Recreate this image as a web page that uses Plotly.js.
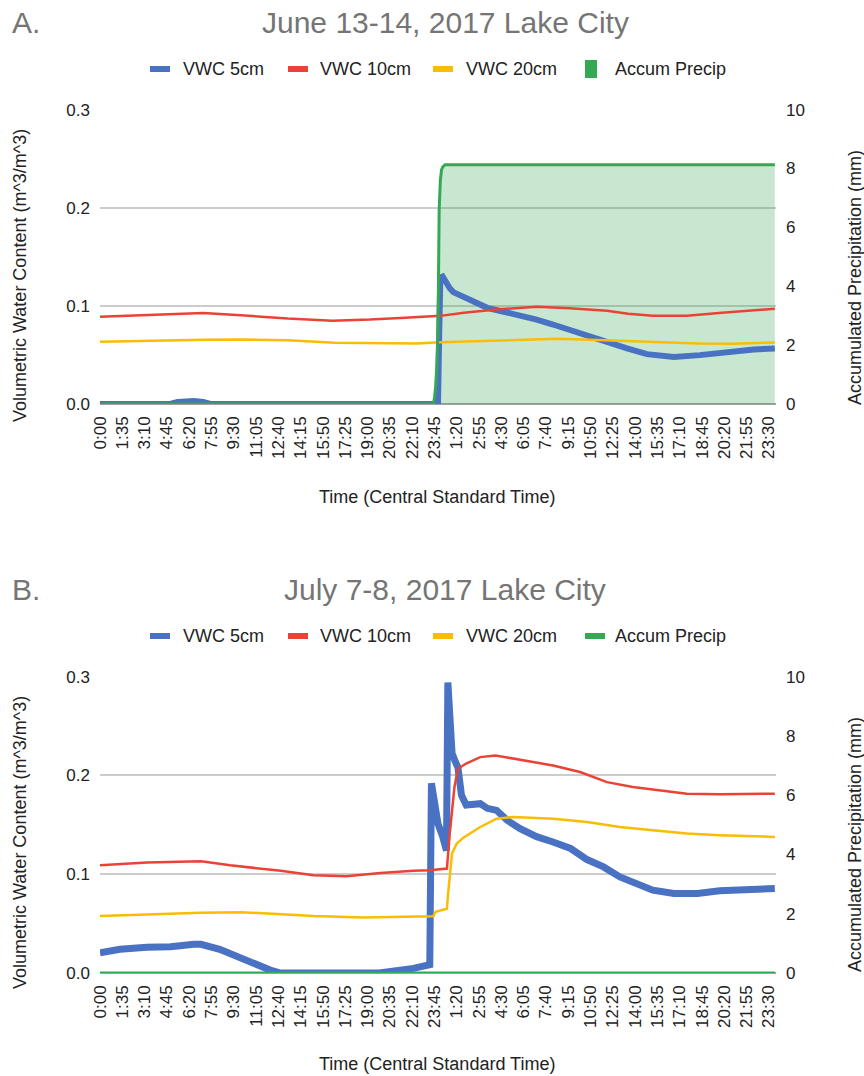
<!DOCTYPE html>
<html>
<head>
<meta charset="utf-8">
<script src="https://cdn.plot.ly/plotly-3.0.1.min.js"></script>
<style>
  html, body { margin: 0; padding: 0; background: #ffffff; }
  #chart { width: 864px; height: 1076px; }
</style>
</head>
<body>
<div id="chart"></div>
<script>
// ---- Time axis: minutes from midnight of the first day, labelled every 1 h 35 min ----
const tickMinutes = [0, 95, 190, 285, 380, 475, 570, 665, 760, 855, 950, 1045, 1140, 1235, 1330,
  1425, 1520, 1615, 1710, 1805, 1900, 1995, 2090, 2185, 2280, 2375, 2470, 2565, 2660, 2755, 2850];
const tickLabels = ["0:00", "1:35", "3:10", "4:45", "6:20", "7:55", "9:30", "11:05", "12:40", "14:15",
  "15:50", "17:25", "19:00", "20:35", "22:10", "23:45", "1:20", "2:55", "4:30", "6:05", "7:40",
  "9:15", "10:50", "12:25", "14:00", "15:35", "17:10", "18:45", "20:20", "21:55", "23:30"];

const seriesNames = ["VWC 5cm", "VWC 10cm", "VWC 20cm", "Accum Precip"];

// ---- June 13-14, 2017 ----
const juneVwc5Time = [0, 300, 330, 360, 400, 440, 470, 1400, 1440, 1445, 1450, 1460, 1470, 1490,
  1505, 1575, 1650, 1720, 1790, 1860, 1930, 2005, 2075, 2160, 2245, 2330, 2445, 2555, 2670, 2785, 2875];
const juneVwc5 = [0.0, 0.0, 0.002, 0.003, 0.003, 0.002, 0.0, 0.0, 0.0, 0.07, 0.129, 0.130, 0.125, 0.118,
  0.114, 0.106, 0.098, 0.094, 0.0905, 0.086, 0.081, 0.075, 0.069, 0.0634, 0.0566, 0.0508, 0.048,
  0.0498, 0.0532, 0.0556, 0.0566];

const juneVwc10Time = [0, 150, 300, 440, 600, 800, 990, 1150, 1300, 1450, 1550, 1700, 1860, 2000,
  2160, 2250, 2355, 2500, 2650, 2875];
const juneVwc10 = [0.0888, 0.0900, 0.0915, 0.0928, 0.0905, 0.0870, 0.0848, 0.0860, 0.0880, 0.0898,
  0.0930, 0.0965, 0.0990, 0.0975, 0.0950, 0.0920, 0.0898, 0.0900, 0.0930, 0.0970];

const juneVwc20Time = [0, 200, 450, 600, 800, 1000, 1200, 1350, 1450, 1600, 1800, 1950, 2150, 2350,
  2550, 2700, 2875];
const juneVwc20 = [0.0634, 0.0645, 0.0655, 0.0658, 0.0650, 0.0625, 0.0618, 0.0617, 0.0630, 0.0640,
  0.0655, 0.0664, 0.0650, 0.0635, 0.0617, 0.0615, 0.0627];

const junePrecipTime = [0, 1420, 1425, 1430, 1435, 1440, 1445, 1450, 1455, 1460, 1470, 2875];
const junePrecip = [0, 0, 0.2, 0.6, 1.3, 2.5, 6.6, 7.6, 7.95, 8.05, 8.13, 8.13];

// ---- July 7-8, 2017 ----
const julyVwc5Time = [0, 85, 200, 300, 400, 430, 510, 580, 655, 725, 770, 1190, 1335, 1390, 1405,
  1412, 1418, 1440, 1460, 1476, 1482, 1490, 1500, 1512, 1525, 1540, 1560, 1620, 1650, 1690, 1735,
  1790, 1860, 1930, 2005, 2075, 2145, 2215, 2290, 2355, 2445, 2545, 2640, 2725, 2875];
const julyVwc5 = [0.0205, 0.024, 0.026, 0.0266, 0.029, 0.029, 0.024, 0.017, 0.0098, 0.003, 0.0, 0.0,
  0.0047, 0.007, 0.0085, 0.192, 0.180, 0.151, 0.138, 0.124, 0.294, 0.240, 0.222, 0.215, 0.208, 0.180,
  0.170, 0.1714, 0.1667, 0.1646, 0.1545, 0.146, 0.138, 0.1326, 0.126, 0.1148, 0.1074, 0.0973, 0.0899,
  0.0838, 0.0805, 0.0805, 0.0832, 0.0838, 0.0856];

const julyVwc10Time = [0, 200, 430, 555, 770, 910, 1050, 1195, 1335, 1405, 1478, 1490, 1510, 1525,
  1560, 1620, 1685, 1790, 1930, 2045, 2160, 2270, 2385, 2500, 2640, 2875];
const julyVwc10 = [0.109, 0.1118, 0.1131, 0.109, 0.1034, 0.099, 0.098, 0.1013, 0.1034, 0.104, 0.1057,
  0.141, 0.188, 0.2067, 0.212, 0.2185, 0.2202, 0.2158, 0.210, 0.2034, 0.1932, 0.1882, 0.1848, 0.1815,
  0.1808, 0.1815];

const julyVwc20Time = [0, 200, 430, 600, 910, 1120, 1335, 1420, 1430, 1478, 1483, 1490, 1500, 1520,
  1548, 1620, 1690, 1760, 1932, 2075, 2215, 2355, 2500, 2640, 2875];
const julyVwc20 = [0.0576, 0.0595, 0.061, 0.0616, 0.0576, 0.0562, 0.0569, 0.0575, 0.062, 0.065, 0.080,
  0.1007, 0.121, 0.131, 0.137, 0.1478, 0.1562, 0.158, 0.1562, 0.1529, 0.1478, 0.1444, 0.1411, 0.1394,
  0.1377];

const julyPrecipTime = [0, 2875];
const julyPrecip = [0, 0];

// ---- Styling ----
const COLORS = { v5: "#4a72c2", v10: "#ea4335", v20: "#fbbc04", precip: "#34a853" };
const FILL = "rgba(52,168,83,0.27)";
const FONT = "Liberation Sans, Arial, Helvetica, sans-serif";
const W = 864, H = 1076, ML = 100, MR = 88;
const PW = W - ML - MR;
// pixel -> paper helpers for decorations
const px = x => (x - ML) / PW;
const py = y => 1 - y / H;

// vertical extents of the two panels (paper units)
const DOM_A = [py(404), py(109)];
const DOM_B = [py(973), py(676)];
// a hair above 0.3 / 10 so the top gridline is drawn
const VWC_MAX = 0.3006, PRECIP_MAX = 10.02;

function lineTrace(x, y, xa, ya, color, width, name) {
  return { type: "scatter", mode: "lines", x: x, y: y, xaxis: xa, yaxis: ya, name: name,
    line: { color: color, width: width }, hoverinfo: "x+y+name", showlegend: false };
}
// shaded precipitation area on the (bottom-layer) precipitation axis
function areaTrace(x, y, xa, ya) {
  return { type: "scatter", mode: "lines", x: x, y: y, xaxis: xa, yaxis: ya,
    line: { width: 0, color: COLORS.precip }, fill: "tozeroy", fillcolor: FILL, showlegend: false,
    hoverinfo: "skip" };
}

const traces = [
  // June: precipitation area under the VWC lines, precipitation line on top
  areaTrace(junePrecipTime, junePrecip, "x", "y"),
  lineTrace(juneVwc5Time, juneVwc5, "x", "y2", COLORS.v5, 6, seriesNames[0]),
  lineTrace(juneVwc10Time, juneVwc10, "x", "y2", COLORS.v10, 2.5, seriesNames[1]),
  lineTrace(juneVwc20Time, juneVwc20, "x", "y2", COLORS.v20, 2.5, seriesNames[2]),
  lineTrace(junePrecipTime, junePrecip, "x", "y3", COLORS.precip, 3, seriesNames[3]),
  // July (no rain recorded, so the area is empty)
  areaTrace(julyPrecipTime, julyPrecip, "x2", "y4"),
  lineTrace(julyVwc5Time, julyVwc5, "x2", "y5", COLORS.v5, 7, seriesNames[0]),
  lineTrace(julyVwc10Time, julyVwc10, "x2", "y5", COLORS.v10, 2.5, seriesNames[1]),
  lineTrace(julyVwc20Time, julyVwc20, "x2", "y5", COLORS.v20, 2.5, seriesNames[2]),
  lineTrace(julyPrecipTime, julyPrecip, "x2", "y6", COLORS.precip, 3, seriesNames[3])
];

const tickFont = { family: FONT, size: 17, color: "#222222" };

function timeAxis(anchor) {
  return { domain: [0, 1], anchor: anchor, range: [0, 2880], tickmode: "array",
    tickvals: tickMinutes, ticktext: tickLabels, tickangle: -90, tickfont: tickFont,
    showgrid: false, zeroline: false, showline: false, ticks: "", ticklabelstandoff: 8,
    fixedrange: true };
}
function precipAxis(domain, anchor) {
  return { domain: domain, anchor: anchor, side: "right", range: [0, PRECIP_MAX], tick0: 0, dtick: 2,
    tickfont: tickFont, showgrid: false, zeroline: false, showline: false, ticks: "",
    ticklabelstandoff: 9, fixedrange: true };
}
function vwcAxis(domain, over, anchor) {
  return { domain: domain, overlaying: over, anchor: anchor, side: "left", range: [0, VWC_MAX],
    tick0: 0, dtick: 0.1, tickformat: ".1f", tickfont: tickFont, showgrid: true,
    gridcolor: "#cccccc", gridwidth: 2, zeroline: true, zerolinecolor: "#a0a0a0", zerolinewidth: 2,
    showline: false, ticks: "", ticklabelstandoff: 9, fixedrange: true };
}
function hiddenPrecip(domain, over, anchor) {
  return { domain: domain, overlaying: over, anchor: anchor, range: [0, PRECIP_MAX], visible: false,
    fixedrange: true };
}

const annotations = [];
const shapes = [];
function text(x, y, str, size, color, xanchor, angle) {
  annotations.push({ xref: "paper", yref: "paper", x: px(x), y: py(y), text: str, showarrow: false,
    xanchor: xanchor || "center", yanchor: "middle", textangle: angle || 0,
    font: { family: FONT, size: size, color: color } });
}
function rect(x0, y0, x1, y1, color) {
  shapes.push({ type: "rect", xref: "paper", yref: "paper", x0: px(x0), x1: px(x1), y0: py(y1),
    y1: py(y0), fillcolor: color, line: { width: 0 } });
}

function panel(letter, title, top, areaPrecip) {
  // top = pixel y of the top of the plot area
  const titleY = top - 87, legendY = top - 40, bottom = top + 296;
  text(10, titleY, letter, 30, "#757575", "left");
  text(445, titleY, title, 30, "#757575");
  const sw = [[150, COLORS.v5], [288, COLORS.v10], [433, COLORS.v20]];
  sw.forEach(s => rect(s[0], legendY - 3, s[0] + 20, legendY + 3, s[1]));
  if (areaPrecip) rect(585, legendY - 9, 597, legendY + 9, COLORS.precip);
  else rect(585, legendY - 3, 605, legendY + 3, COLORS.precip);
  text(181, legendY, seriesNames[0], 18, "#222222", "left");
  text(318, legendY, seriesNames[1], 18, "#222222", "left");
  text(464, legendY, seriesNames[2], 18, "#222222", "left");
  text(613, legendY, seriesNames[3], 18, "#222222", "left");
  text(20, top + 167, "Volumetric Water Content (m^3/m^3)", 18, "#222222", "center", -90);
  text(855, top + 169, "Accumulated Precipitation (mm)", 18, "#222222", "center", -90);
  text(437, bottom + 92, "Time (Central Standard Time)", 18, "#222222");
}
panel("A.", "June 13-14, 2017 Lake City", 109, true);
panel("B.", "July 7-8, 2017 Lake City", 676, false);

const layout = {
  width: W, height: H,
  margin: { l: ML, r: MR, t: 0, b: 0, pad: 0 },
  paper_bgcolor: "#ffffff", plot_bgcolor: "rgba(0,0,0,0)",
  font: { family: FONT, color: "#222222" },
  showlegend: false,
  xaxis: timeAxis("y"),
  yaxis: precipAxis(DOM_A, "x"),
  yaxis2: vwcAxis(DOM_A, "y", "x"),
  yaxis3: hiddenPrecip(DOM_A, "y", "x"),
  xaxis2: timeAxis("y4"),
  yaxis4: precipAxis(DOM_B, "x2"),
  yaxis5: vwcAxis(DOM_B, "y4", "x2"),
  yaxis6: hiddenPrecip(DOM_B, "y4", "x2"),
  annotations: annotations,
  shapes: shapes
};

Plotly.newPlot("chart", traces, layout, { displayModeBar: false, staticPlot: true });
</script>
</body>
</html>
